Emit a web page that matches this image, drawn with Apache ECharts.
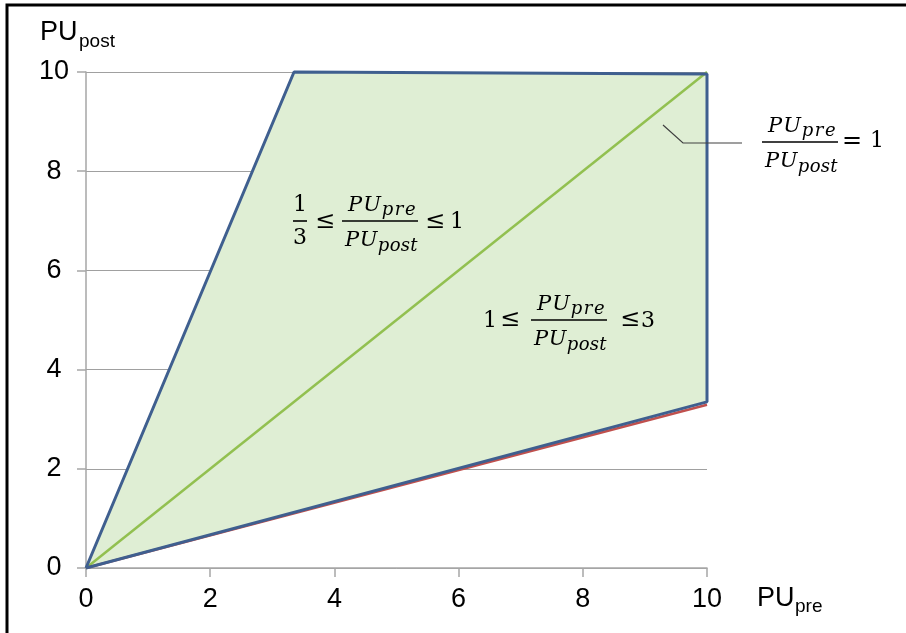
<!DOCTYPE html>
<html>
<head>
<meta charset="utf-8">
<script src="https://cdn.jsdelivr.net/npm/echarts@6/dist/echarts.min.js"></script>
<style>
  html, body { margin: 0; padding: 0; background: #fff; }
  #chart { width: 906px; height: 633px; }
</style>
</head>
<body>
<div id="chart"></div>
<script>
// region outline: PU_pre / PU_post between 1/3 and 3
var regionX = [0, 3.35, 10, 10, 0];
var regionY = [0, 10, 9.96, 3.35, 0];
// ratio = 1
var diagX = [0, 10];
var diagY = [0, 10];
// ratio = 3 (lower edge)
var lowerX = [0, 10];
var lowerY = [0, 3.29];
var tickLabels = ['0', '2', '4', '6', '8', '10'];

function pairs(xs, ys) {
  return xs.map(function (x, i) { return [x, ys[i]]; });
}

var serif = '"DejaVu Serif", "Liberation Serif", serif';
var sans = '"Liberation Sans", Arial, sans-serif';
var ctx = document.createElement('canvas').getContext('2d');

function fontOf(size, italic) {
  return (italic ? 'italic ' : '') + size + 'px ' + serif;
}

function txt(x, y, s, size, italic, align) {
  return {
    type: 'text', silent: true, z: 50,
    style: {
      x: x, y: y, text: s, fill: '#000',
      font: fontOf(size, italic),
      textAlign: align || 'left', textVerticalAlign: 'middle'
    }
  };
}

// cambria math is spaced out, so lay letters one by one
function spaced(out, x, y, s, size, gap) {
  ctx.font = fontOf(size, true);
  for (var i = 0; i < s.length; i++) {
    out.push(txt(x, y, s[i], size, true));
    x += ctx.measureText(s[i]).width + gap;
  }
  return x;
}

// PU_pre / PU_post, bar starts at (x, y)
function ratio(x, y) {
  var out = [];
  var nx = spaced(out, x + 6, y - 15, 'PU', 21, 1);
  spaced(out, nx, y - 10.5, 'pre', 18, 1.5);
  out.push({ type: 'line', silent: true, z: 50,
    shape: { x1: x, y1: y, x2: x + 76, y2: y },
    style: { stroke: '#000', lineWidth: 1.6 } });
  var dx = spaced(out, x + 3, y + 20, 'PU', 21, 0.5);
  spaced(out, dx, y + 25.5, 'post', 18, 0.3);
  return out;
}

var graphics = [
  { type: 'polyline', silent: true, z: 50,
    shape: { points: [[7, 633], [7, 5], [906, 5]] },
    style: { stroke: '#000', fill: null, lineWidth: 3 } },
  { type: 'text', silent: true, z: 50,
    style: { x: 40, y: 33, text: 'PU', fill: '#000', font: '27px ' + sans, textVerticalAlign: 'middle' } },
  { type: 'text', silent: true, z: 50,
    style: { x: 79, y: 42, text: 'post', fill: '#000', font: '19px ' + sans, textVerticalAlign: 'middle' } },
  { type: 'text', silent: true, z: 50,
    style: { x: 757, y: 599, text: 'PU', fill: '#000', font: '27px ' + sans, textVerticalAlign: 'middle' } },
  { type: 'text', silent: true, z: 50,
    style: { x: 795, y: 607, text: 'pre', fill: '#000', font: '19px ' + sans, textVerticalAlign: 'middle' } },
  // pointer to the diagonal
  { type: 'polyline', silent: true, z: 50,
    shape: { points: [[663, 125], [683, 143], [742, 143]] },
    style: { stroke: '#404040', fill: null, lineWidth: 1.2 } }
];

// 1/3 <= ratio <= 1
graphics.push(txt(300, 205, '1', 22, false, 'center'));
graphics.push({ type: 'line', silent: true, z: 50,
  shape: { x1: 293, y1: 221, x2: 307, y2: 221 }, style: { stroke: '#000', lineWidth: 1.6 } });
graphics.push(txt(300, 238, '3', 22, false, 'center'));
graphics.push(txt(325, 222, '≤', 24, false, 'center'));
graphics = graphics.concat(ratio(342, 221));
graphics.push(txt(435, 222, '≤', 24, false, 'center'));
graphics.push(txt(457, 222, '1', 22, false, 'center'));

// 1 <= ratio <= 3
graphics.push(txt(490, 321, '1', 22, false, 'center'));
graphics.push(txt(510, 320, '≤', 24, false, 'center'));
graphics = graphics.concat(ratio(531, 320));
graphics.push(txt(630, 320, '≤', 24, false, 'center'));
graphics.push(txt(648, 321, '3', 22, false, 'center'));

// ratio = 1
graphics = graphics.concat(ratio(762, 142));
graphics.push(txt(852, 142, '=', 24, false, 'center'));
graphics.push(txt(877, 141.5, '1', 22, false, 'center'));

var axisGray = '#a6a6a6';
var chart = echarts.init(document.getElementById('chart'));
var option = {
  animation: false,
  backgroundColor: '#fff',
  grid: { left: 86, right: 199, top: 72, bottom: 65 },
  xAxis: {
    type: 'value', min: 0, max: 10, interval: 2,
    axisLine: { show: true, lineStyle: { color: axisGray, width: 1.5 } },
    axisTick: { show: true, length: 9, lineStyle: { color: axisGray, width: 1.5 } },
    axisLabel: {
      fontSize: 27, fontFamily: sans, color: '#000', margin: 18,
      formatter: function (v) { return tickLabels[v / 2]; }
    },
    splitLine: { show: false }
  },
  yAxis: {
    type: 'value', min: 0, max: 10, interval: 2,
    axisLine: { show: true, lineStyle: { color: axisGray, width: 1.5 } },
    axisTick: { show: true, length: 9, lineStyle: { color: axisGray, width: 1.5 } },
    axisLabel: {
      fontSize: 27, fontFamily: sans, color: '#000', margin: 32, align: 'center',
      formatter: function (v) { return tickLabels[v / 2]; }
    },
    splitLine: { show: true, lineStyle: { color: '#a0a0a0', width: 1 } }
  },
  series: [
    {
      type: 'custom', silent: true, z: 2,
      data: pairs(regionX, regionY),
      clip: false,
      renderItem: function (params, api) {
        if (params.dataIndex !== 0) return;
        var pts = regionX.map(function (x, i) { return api.coord([x, regionY[i]]); });
        return { type: 'polygon', shape: { points: pts }, style: { fill: '#dfeed4', stroke: null } };
      }
    },
    {
      type: 'line', silent: true, z: 3, symbol: 'none',
      data: pairs(diagX, diagY),
      lineStyle: { color: '#92c050', width: 2.5 }
    },
    {
      type: 'line', silent: true, z: 4, symbol: 'none',
      data: pairs(lowerX, lowerY),
      lineStyle: { color: '#c0504d', width: 2.5 }
    },
    {
      type: 'line', silent: true, z: 5, symbol: 'none', clip: false,
      data: pairs(regionX, regionY),
      lineStyle: { color: '#3f5f8f', width: 3 }
    }
  ],
  graphic: graphics
};
chart.setOption(option);
</script>
</body>
</html>
